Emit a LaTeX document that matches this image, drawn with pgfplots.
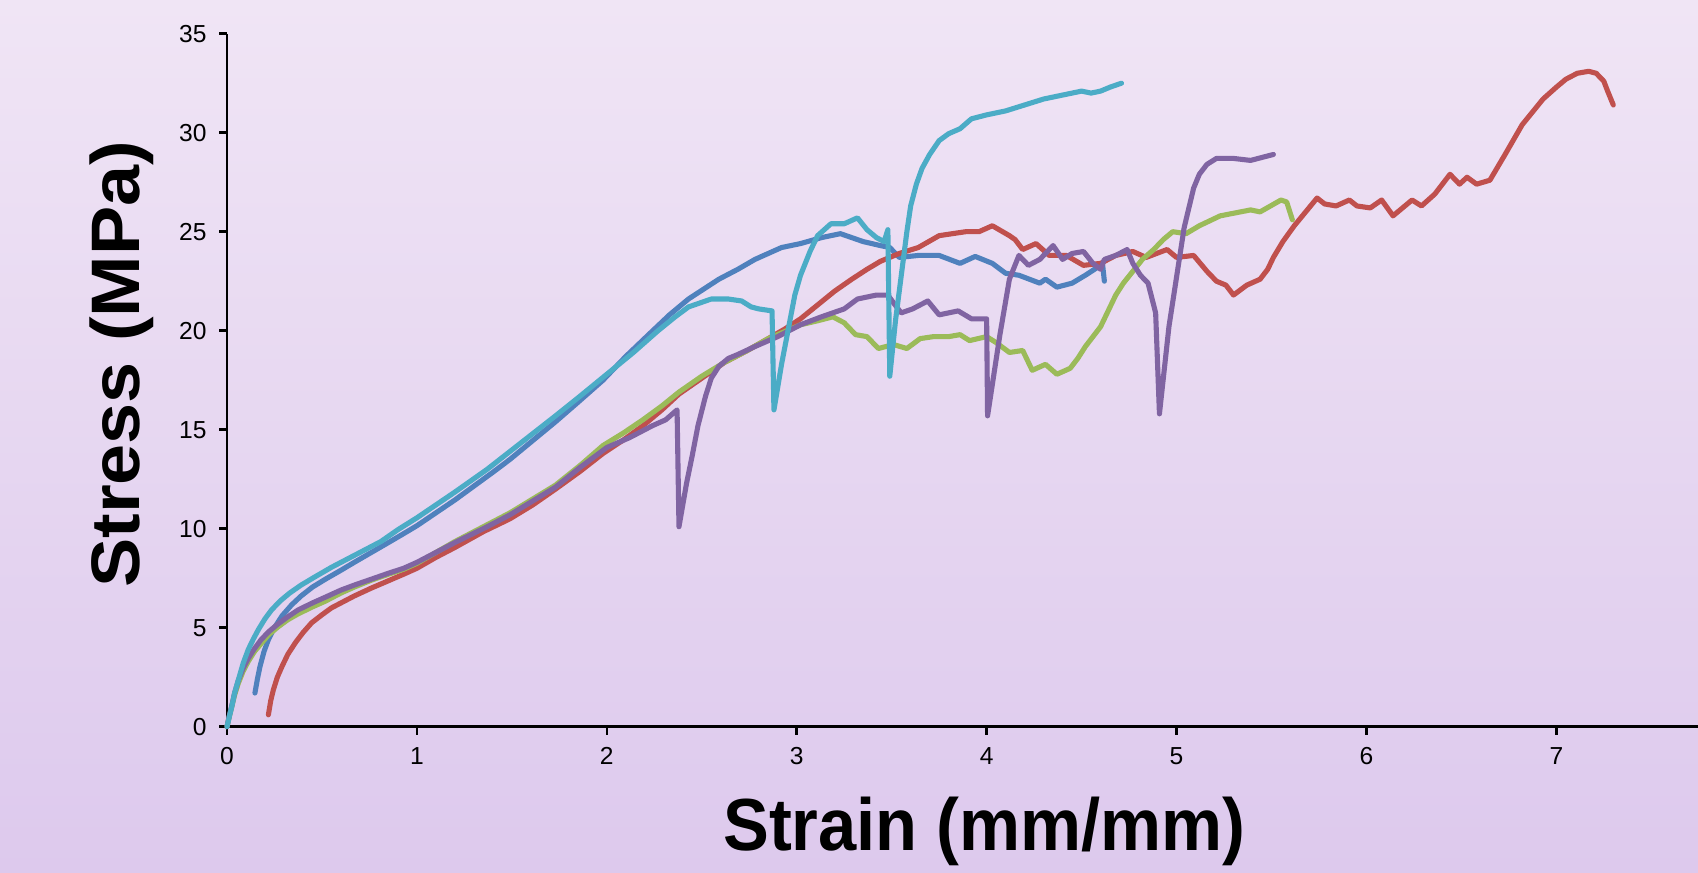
\documentclass[border=0pt]{standalone}
\usepackage{fontspec}
\setmainfont{Liberation Sans}
\usepackage{pgfplots}
\pgfplotsset{compat=1.18}
\definecolor{bgtop}{RGB}{240,229,245}
\definecolor{bgbot}{RGB}{221,201,237}
\definecolor{xlblue}{RGB}{79,129,189}
\definecolor{xlred}{RGB}{192,80,77}
\definecolor{xlgreen}{RGB}{155,187,89}
\definecolor{xlpurple}{RGB}{128,100,162}
\definecolor{xlaqua}{RGB}{75,172,198}

\begin{document}
\begin{tikzpicture}
\path[use as bounding box] (0,0) rectangle (16.98cm,8.73cm);
\shade[top color=bgtop, bottom color=bgbot] (0,0) rectangle (16.98cm,8.73cm);
\begin{axis}[
    at={(2.27cm,1.463cm)}, anchor=south west,
    scale only axis, width=14.71cm, height=6.93cm,
    xmin=0, xmax=7.746, ymin=0, ymax=35,
    xtick={0,1,...,7}, ytick={0,5,...,35},
    axis lines=left, axis line style={-, line width=0.8pt},
    tick align=outside, major tick length=0.08cm,
    tick style={black, line width=0.7pt},
    /pgf/number format/assume math mode=true,
    tick label style={font=\fontsize{7}{8}\selectfont},
    xlabel={Strain (mm/mm)}, ylabel={Stress (MPa)},
    label style={font=\fontsize{21}{24}\selectfont\bfseries},
    xlabel style={at={(axis description cs:0.515,-0.151)}, anchor=center, xscale=0.93},
    ylabel style={at={(axis description cs:-0.0714,0.523)}, anchor=center, yscale=0.93},
    every axis plot/.append style={line width=1.45pt, line join=round, line cap=round},
    clip=false
]
% blue
\addplot[color=xlblue] coordinates {
(0.147,1.7) (0.16,2.4) (0.174,3.05) (0.195,3.8) (0.218,4.4) (0.25,5.0) (0.29,5.6) (0.34,6.15)
(0.39,6.6) (0.45,7.05) (0.52,7.46) (0.6,7.9) (0.67,8.3) (0.76,8.8) (0.85,9.3) (0.93,9.75)
(1.0,10.15) (1.1,10.8) (1.2,11.45) (1.3,12.15) (1.4,12.85) (1.49,13.5) (1.61,14.45) (1.73,15.4)
(1.85,16.4) (1.98,17.5) (2.1,18.7) (2.22,19.8) (2.33,20.8) (2.43,21.6) (2.51,22.1) (2.59,22.6)
(2.69,23.1) (2.78,23.6) (2.85,23.9) (2.92,24.2) (3.02,24.4) (3.13,24.7) (3.23,24.9) (3.35,24.5)
(3.44,24.3) (3.49,24.2) (3.54,23.7) (3.64,23.8) (3.75,23.8) (3.86,23.4) (3.94,23.75) (4.03,23.4)
(4.10,22.9) (4.17,22.8) (4.28,22.4) (4.31,22.6) (4.37,22.2) (4.45,22.4) (4.52,22.8) (4.60,23.3)
(4.61,23.4) (4.62,22.5)};
% red
\addplot[color=xlred] coordinates {
(0.218,0.6) (0.23,1.3) (0.244,1.86) (0.265,2.5) (0.29,3.05) (0.32,3.65) (0.36,4.24) (0.40,4.75)
(0.446,5.25) (0.5,5.65) (0.55,6.0) (0.61,6.3) (0.67,6.6) (0.76,7.0) (0.85,7.37) (0.93,7.7)
(1.0,8.0) (1.1,8.55) (1.2,9.05) (1.35,9.85) (1.49,10.5) (1.61,11.2) (1.73,12.0) (1.86,12.9)
(1.98,13.8) (2.09,14.5) (2.19,15.2) (2.29,16.0) (2.38,16.8) (2.5,17.6) (2.62,18.4) (2.74,19.0)
(2.85,19.6) (2.94,20.1) (3.02,20.6) (3.11,21.3) (3.20,22.0) (3.29,22.6) (3.37,23.1) (3.44,23.5)
(3.49,23.7) (3.54,23.9) (3.64,24.2) (3.75,24.8) (3.89,25.0) (3.96,25.0) (4.03,25.3) (4.12,24.8)
(4.15,24.6) (4.19,24.1) (4.26,24.4) (4.33,23.8) (4.42,23.8) (4.51,23.3) (4.60,23.4) (4.68,23.8)
(4.77,24.0) (4.84,23.7) (4.95,24.1) (5.0,23.7) (5.09,23.8) (5.16,23.0) (5.21,22.5) (5.26,22.3)
(5.30,21.8) (5.37,22.3) (5.44,22.6) (5.48,23.1) (5.51,23.7) (5.56,24.5) (5.62,25.3) (5.68,26.0)
(5.74,26.7) (5.78,26.4) (5.84,26.3) (5.91,26.6) (5.95,26.3) (6.02,26.2) (6.08,26.6) (6.14,25.8)
(6.24,26.6) (6.29,26.3) (6.36,26.9) (6.44,27.9) (6.49,27.4) (6.53,27.75) (6.58,27.4) (6.65,27.6)
(6.73,28.9) (6.82,30.4) (6.93,31.7) (7.0,32.3) (7.05,32.7) (7.11,33.0) (7.17,33.1) (7.21,33.0)
(7.25,32.6) (7.27,32.1) (7.30,31.4)};
% green
\addplot[color=xlgreen] coordinates {
(0,0) (0.012,0.5) (0.025,1.0) (0.04,1.6) (0.06,2.2) (0.085,2.8) (0.112,3.3) (0.145,3.8)
(0.18,4.2) (0.22,4.65) (0.27,5.05) (0.32,5.4) (0.375,5.7) (0.45,6.05) (0.52,6.35) (0.6,6.75)
(0.67,7.05) (0.76,7.4) (0.85,7.7) (0.93,7.95) (1.0,8.25) (1.1,8.8) (1.2,9.35) (1.37,10.2)
(1.49,10.8) (1.61,11.5) (1.73,12.2) (1.86,13.2) (1.98,14.2) (2.09,14.85) (2.19,15.5) (2.29,16.2)
(2.38,16.9) (2.5,17.7) (2.62,18.4) (2.74,19.0) (2.85,19.6) (3.02,20.3) (3.11,20.5) (3.19,20.7)
(3.25,20.4) (3.31,19.8) (3.37,19.7) (3.43,19.1) (3.51,19.3) (3.58,19.1) (3.65,19.6) (3.72,19.7)
(3.80,19.7) (3.86,19.8) (3.91,19.5) (4.0,19.7) (4.05,19.4) (4.12,18.9) (4.19,19.0) (4.24,18.0)
(4.31,18.3) (4.37,17.8) (4.44,18.1) (4.48,18.6) (4.52,19.2) (4.56,19.7) (4.60,20.2) (4.64,21.0)
(4.68,21.8) (4.72,22.4) (4.77,23.0) (4.82,23.6) (4.88,24.1) (4.93,24.6) (4.98,25.0) (5.05,24.9)
(5.12,25.3) (5.23,25.8) (5.39,26.1) (5.44,26.0) (5.55,26.6) (5.58,26.5) (5.61,25.6)};
% purple
\addplot[color=xlpurple] coordinates {
(0,0) (0.012,0.55) (0.025,1.05) (0.04,1.7) (0.06,2.35) (0.085,2.95) (0.112,3.45) (0.145,3.95)
(0.18,4.4) (0.22,4.8) (0.27,5.2) (0.32,5.55) (0.375,5.9) (0.45,6.25) (0.52,6.55) (0.6,6.9)
(0.67,7.15) (0.76,7.45) (0.85,7.75) (0.93,8.0) (1.0,8.3) (1.1,8.8) (1.2,9.3) (1.37,10.1)
(1.49,10.7) (1.61,11.4) (1.73,12.1) (1.86,13.1) (2.0,14.1) (2.12,14.6) (2.24,15.2) (2.31,15.5)
(2.37,16.0) (2.38,10.1) (2.42,12.3) (2.45,13.7) (2.48,15.2) (2.52,16.7) (2.55,17.6) (2.59,18.2)
(2.64,18.6) (2.69,18.8) (2.78,19.2) (2.90,19.7) (3.02,20.3) (3.13,20.7) (3.25,21.1) (3.32,21.6)
(3.42,21.8) (3.48,21.8) (3.51,21.4) (3.55,20.9) (3.61,21.1) (3.69,21.5) (3.75,20.8) (3.85,21.0)
(3.92,20.6) (4.0,20.6) (4.005,15.7) (4.07,19.8) (4.12,22.6) (4.17,23.8) (4.22,23.3) (4.28,23.6)
(4.35,24.3) (4.40,23.6) (4.45,23.9) (4.51,24.0) (4.56,23.4) (4.60,23.1) (4.62,23.6) (4.68,23.8)
(4.74,24.1) (4.77,23.4) (4.81,22.8) (4.85,22.4) (4.89,20.9) (4.91,15.8) (4.96,20.2) (5.04,25.2)
(5.07,26.4) (5.09,27.2) (5.12,27.9) (5.16,28.4) (5.21,28.7) (5.30,28.7) (5.39,28.6) (5.51,28.9)};
% aqua
\addplot[color=xlaqua] coordinates {
(0,0) (0.012,0.5) (0.025,1.0) (0.04,1.7) (0.06,2.37) (0.085,3.2) (0.112,3.9) (0.14,4.45)
(0.165,4.9) (0.2,5.45) (0.235,5.9) (0.28,6.35) (0.33,6.75) (0.39,7.15) (0.46,7.55) (0.55,8.05)
(0.64,8.5) (0.72,8.9) (0.81,9.35) (0.9,9.95) (1.0,10.55) (1.1,11.2) (1.2,11.85) (1.37,13.0)
(1.49,13.9) (1.61,14.8) (1.73,15.7) (1.86,16.7) (2.0,17.8) (2.14,18.9) (2.27,20.0) (2.36,20.7)
(2.43,21.2) (2.55,21.6) (2.64,21.6) (2.71,21.5) (2.76,21.2) (2.80,21.1) (2.87,21.0) (2.88,16.0)
(2.92,18.3) (2.95,19.8) (2.99,21.8) (3.02,22.8) (3.07,24.0) (3.11,24.8) (3.18,25.4) (3.25,25.4)
(3.32,25.7) (3.37,25.1) (3.42,24.7) (3.46,24.5) (3.48,25.1) (3.49,17.7) (3.52,20.5) (3.56,23.5)
(3.58,25.0) (3.60,26.3) (3.63,27.4) (3.66,28.2) (3.70,28.9) (3.75,29.6) (3.80,29.95) (3.86,30.2)
(3.92,30.7) (4.0,30.9) (4.1,31.1) (4.2,31.4) (4.3,31.7) (4.4,31.9) (4.5,32.1) (4.55,32.0)
(4.6,32.1) (4.65,32.3) (4.71,32.5)};
\end{axis}
\end{tikzpicture}
\end{document}
